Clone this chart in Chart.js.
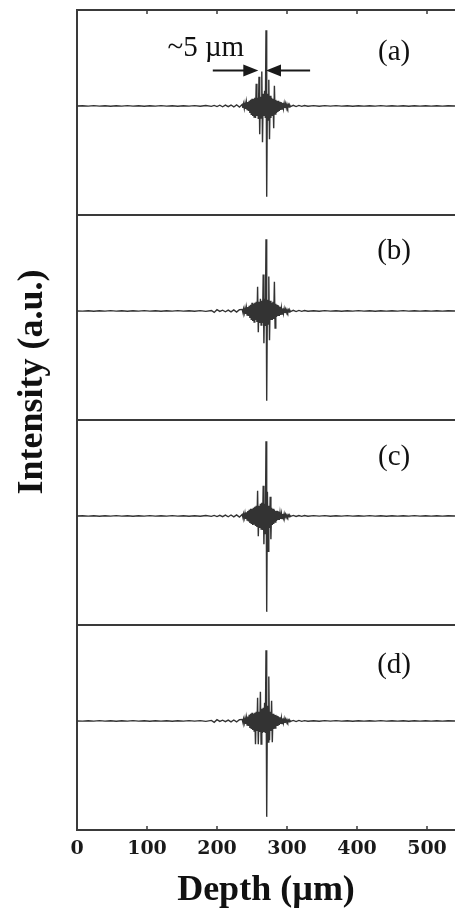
<!DOCTYPE html>
<html>
<head>
<meta charset="utf-8">
<script src="https://cdn.jsdelivr.net/npm/chart.js@4.4.1/dist/chart.umd.min.js"></script>
<style>
  html, body { margin: 0; padding: 0; background: #fff; }
  #wrap { position: relative; width: 455px; height: 912px; overflow: hidden; }
  canvas { display: block; }
</style>
</head>
<body>
<div id="wrap"><canvas id="c" width="455" height="912"></canvas></div>
<script>
// ---------------- data ----------------
const depth = [
  0,8,16,24,32,40,48,56,64,72,80,88,96,104,112,120,128,136,144,152,160,168,176,184,
  192,196,200,204,208,212,216,220,224,228,232,
  236,237,238,239,240,241,242,243,244,245,
  246,247,248,249,250,251,252,253,254,255,
  256,257,258,259,260,261,262,263,264,265,
  266,267,268,269,270,271,272,273,274,275,
  276,277,278,279,280,281,282,283,284,285,
  286,287,288,289,290,291,292,293,294,295,
  296,297,298,299,300,301,302,303,304,305,
  309,313,317,321,325,330,338,346,354,362,370,378,386,394,402,410,418,426,434,442,
  450,458,466,474,482,490,498,506,514,522,530,540
];

const panelA = [
  0.000,0.002,-0.002,0.003,-0.002,0.002,-0.003,0.002,-0.002,0.003,-0.002,0.002,-0.003,
  0.002,-0.002,0.003,-0.002,0.002,-0.003,0.002,-0.002,0.003,-0.003,0.004,-0.004,
  0.005,-0.006,0.007,-0.008,0.008,-0.007,0.009,-0.010,0.011,-0.012,
  0.015,-0.02,0.02,-0.025,0.025,-0.03,0.035,-0.035,0.04,-0.05,
  0.05,-0.07,0.06,-0.09,0.07,-0.10,0.07,-0.11,0.08,-0.12,
  0.22,-0.10,0.08,-0.13,0.29,-0.28,0.09,-0.12,0.34,-0.36,
  0.12,-0.10,0.15,-0.12,0.75,-0.90,0.12,-0.14,0.26,-0.33,
  0.10,-0.12,0.08,-0.10,0.07,-0.22,0.20,-0.08,0.06,-0.07,
  0.05,-0.06,0.05,-0.05,0.04,-0.04,0.035,-0.03,0.03,-0.025,
  0.025,-0.02,0.02,-0.02,0.015,-0.015,0.012,-0.01,0.008,-0.006,
  0.006,-0.006,0.005,-0.004,0.004,
  -0.003,0.003,-0.003,0.003,-0.002,0.003,-0.002,0.002,-0.003,0.002,-0.002,0.002,-0.002,
  0.003,-0.002,0.002,-0.002,0.002,-0.003,0.002,-0.002,0.002,-0.002,0.002,-0.002,0.002,
  0.000
];

const panelB = [
  0.000,-0.002,0.002,-0.003,0.002,-0.002,0.003,-0.002,0.002,-0.003,0.002,-0.002,0.003,
  -0.002,0.002,-0.003,0.002,-0.002,0.003,-0.002,0.002,-0.003,0.003,-0.004,0.004,
  -0.015,0.012,-0.005,0.007,-0.008,0.008,-0.009,0.010,-0.011,0.012,
  0.015,-0.015,0.02,-0.02,0.025,-0.03,0.03,-0.04,0.04,-0.05,
  0.05,-0.07,0.06,-0.09,0.08,-0.10,0.07,-0.11,0.08,-0.09,
  0.09,-0.11,0.24,-0.21,0.09,-0.12,0.12,-0.14,0.10,-0.12,
  0.36,-0.32,0.12,-0.15,0.71,-0.89,0.11,-0.13,0.34,-0.29,
  0.10,-0.09,0.08,-0.09,0.09,-0.08,0.29,-0.17,0.07,-0.06,
  0.06,-0.05,0.05,-0.05,0.04,-0.04,0.03,-0.03,0.025,-0.025,
  0.02,-0.02,0.015,-0.015,0.012,-0.012,0.01,-0.01,0.008,-0.006,
  0.006,-0.006,0.005,-0.004,0.004,
  -0.003,0.002,-0.003,0.003,-0.002,0.002,-0.003,0.002,-0.002,0.003,-0.002,0.002,-0.003,
  0.002,-0.002,0.002,-0.002,0.003,-0.002,0.002,-0.002,0.002,-0.002,0.002,-0.002,0.002,
  0.000
];

const panelC = [
  0.000,0.002,-0.002,0.002,-0.003,0.002,-0.002,0.003,-0.002,0.002,-0.003,0.002,-0.002,
  0.003,-0.002,0.002,-0.002,0.003,-0.002,0.002,-0.003,0.002,-0.003,0.004,-0.004,
  0.005,-0.006,0.006,-0.007,0.008,-0.008,0.009,-0.009,0.010,-0.012,
  0.015,-0.015,0.02,-0.02,0.025,-0.03,0.035,-0.04,0.05,-0.055,
  0.06,-0.07,0.07,-0.08,0.07,-0.09,0.08,-0.08,0.09,-0.10,
  0.10,-0.11,0.25,-0.20,0.10,-0.12,0.12,-0.13,0.13,-0.14,
  0.30,-0.28,0.12,-0.18,0.74,-0.95,0.24,-0.35,0.10,-0.12,
  0.19,-0.23,0.08,-0.09,0.07,-0.08,0.06,-0.06,0.05,-0.05,
  0.05,-0.04,0.04,-0.04,0.03,-0.03,0.025,-0.025,0.02,-0.02,
  0.02,-0.015,0.015,-0.012,0.01,-0.01,0.008,-0.008,0.006,-0.005,
  0.005,-0.005,0.004,-0.004,0.004,
  -0.003,0.003,-0.002,0.003,-0.003,0.002,-0.002,0.003,-0.002,0.002,-0.002,0.003,-0.002,
  0.002,-0.003,0.002,-0.002,0.002,-0.002,0.003,-0.002,0.002,-0.002,0.002,-0.002,0.002,
  0.000
];

const panelD = [
  0.000,-0.002,0.002,-0.002,0.003,-0.002,0.002,-0.003,0.002,-0.002,0.003,-0.002,0.002,
  -0.003,0.002,-0.002,0.002,-0.003,0.002,-0.002,0.003,-0.002,0.003,-0.004,0.005,
  -0.014,0.012,-0.005,0.007,-0.007,0.008,-0.009,0.009,-0.010,0.012,
  0.015,-0.015,0.02,-0.02,0.025,-0.03,0.03,-0.04,0.045,-0.05,
  0.06,-0.07,0.07,-0.08,0.08,-0.09,0.07,-0.10,0.08,-0.23,
  0.09,-0.10,0.23,-0.23,0.09,-0.11,0.29,-0.23,0.12,-0.12,
  0.13,-0.11,0.18,-0.12,0.70,-0.95,0.15,-0.21,0.44,-0.19,
  0.09,-0.10,0.20,-0.21,0.07,-0.08,0.06,-0.07,0.06,-0.05,
  0.05,-0.05,0.04,-0.04,0.035,-0.03,0.03,-0.025,0.025,-0.02,
  0.02,-0.02,0.015,-0.012,0.012,-0.01,0.008,-0.008,0.006,-0.005,
  0.005,-0.006,0.005,-0.004,0.003,
  -0.003,0.002,-0.003,0.003,-0.002,0.003,-0.002,0.002,-0.003,0.002,-0.002,0.002,-0.002,
  0.003,-0.002,0.002,-0.002,0.002,-0.003,0.002,-0.002,0.002,-0.002,0.002,-0.002,0.002,
  0.000
];

const panels = [panelA, panelB, panelC, panelD];
const panelLabels = ['(a)', '(b)', '(c)', '(d)'];
const tickLabels = [0, 100, 200, 300, 400, 500];
const xTitle = 'Depth (\u00b5m)';
const yTitle = 'Intensity (a.u.)';
const widthNote = '~5 \u00b5m';

panels.forEach((p, i) => { if (p.length !== depth.length) console.error('length mismatch', i, p.length, depth.length); });

// ---------------- chart ----------------
const INK = '#333333';
const FRAME = '#3a3a3a';
const yIds = ['y0', 'y1', 'y2', 'y3'];

const scales = {
  x: {
    type: 'linear', min: 0, max: 540, position: 'bottom',
    afterBuildTicks: s => { s.ticks = tickLabels.map(v => ({ value: v })); },
    afterFit: s => { s.height = 82; },
    grid: { display: false, drawTicks: false },
    border: { display: true, color: FRAME, width: 2 },
    ticks: {
      autoSkip: false, maxRotation: 0, padding: 8, color: '#1a1a1a',
      font: { family: 'DejaVu Serif', size: 19, weight: 'bold' }
    },
    title: {
      display: true, text: xTitle, color: '#111',
      font: { family: 'Liberation Serif', size: 36, weight: 'bold', lineHeight: 1.2 },
      padding: { top: 0, bottom: 0 }
    }
  }
};
yIds.forEach((id, i) => {
  scales[id] = {
    type: 'linear', position: 'left', stack: 'panels', stackWeight: 1, weight: 4 - i,
    min: -1.08, max: 0.95,
    afterFit: s => { s.width = 0; },
    ticks: { display: false },
    grid: { display: false, drawTicks: false },
    border: { display: true, color: FRAME, width: 2 }
  };
});

const annot = {
  id: 'annot',
  afterDraw(chart) {
    const { ctx, chartArea: ca, scales: sc } = chart;
    const x = sc.x;
    ctx.save();
    // top border + panel separators
    ctx.strokeStyle = FRAME; ctx.lineWidth = 2;
    yIds.forEach(id => {
      const s = sc[id];
      ctx.beginPath(); ctx.moveTo(ca.left - 1, s.top); ctx.lineTo(ca.right, s.top); ctx.stroke();
    });
    // inward ticks (top of first panel, bottom of last)
    ctx.lineWidth = 1.5;
    tickLabels.forEach(v => {
      if (v === 0) return;
      const px = x.getPixelForValue(v);
      ctx.beginPath();
      ctx.moveTo(px, ca.top); ctx.lineTo(px, ca.top + 4);
      ctx.moveTo(px, ca.bottom); ctx.lineTo(px, ca.bottom - 4);
      ctx.stroke();
    });
    // panel letters
    ctx.fillStyle = '#111';
    ctx.font = '29px "Liberation Serif"';
    ctx.textAlign = 'center'; ctx.textBaseline = 'middle';
    const labelY = [0.53, 0.59, 0.58, 0.55];
    yIds.forEach((id, i) => {
      ctx.fillText(panelLabels[i], x.getPixelForValue(453), sc[id].getPixelForValue(labelY[i]));
    });
    // ~5 um note with arrows (panel a)
    const ya = sc.y0;
    ctx.textBaseline = 'alphabetic';
    ctx.fillText(widthNote, x.getPixelForValue(184), ya.getPixelForValue(0.49));
    const ay = ya.getPixelForValue(0.35);
    const arrow = (fromV, toV) => {
      const x0 = x.getPixelForValue(fromV), x1 = x.getPixelForValue(toV);
      const dir = Math.sign(x1 - x0);
      ctx.strokeStyle = '#1a1a1a'; ctx.lineWidth = 2;
      ctx.beginPath(); ctx.moveTo(x0, ay); ctx.lineTo(x1 - dir * 12, ay); ctx.stroke();
      ctx.fillStyle = '#1a1a1a';
      ctx.beginPath(); ctx.moveTo(x1, ay); ctx.lineTo(x1 - dir * 15, ay - 6); ctx.lineTo(x1 - dir * 15, ay + 6); ctx.closePath(); ctx.fill();
    };
    arrow(194, 259);
    arrow(333, 270);
    // y title
    ctx.fillStyle = '#111';
    ctx.font = 'bold 36px "Liberation Serif"';
    ctx.textAlign = 'center'; ctx.textBaseline = 'middle';
    ctx.translate(33, 382);
    ctx.rotate(-Math.PI / 2);
    ctx.fillText(yTitle, 0, 0);
    ctx.restore();
  }
};

new Chart(document.getElementById('c'), {
  type: 'line',
  data: {
    datasets: panels.map((vals, i) => ({
      data: depth.map((d, j) => ({ x: d, y: vals[j] })),
      yAxisID: yIds[i],
      borderColor: INK, borderWidth: 1.4,
      pointRadius: 0, tension: 0, fill: false
    }))
  },
  options: {
    responsive: false, animation: false, devicePixelRatio: 1,
    layout: { padding: { left: 77, right: 0, top: 10, bottom: 0 } },
    plugins: { legend: { display: false }, tooltip: { enabled: false }, title: { display: false } },
    scales
  },
  plugins: [annot]
});
</script>
</body>
</html>
